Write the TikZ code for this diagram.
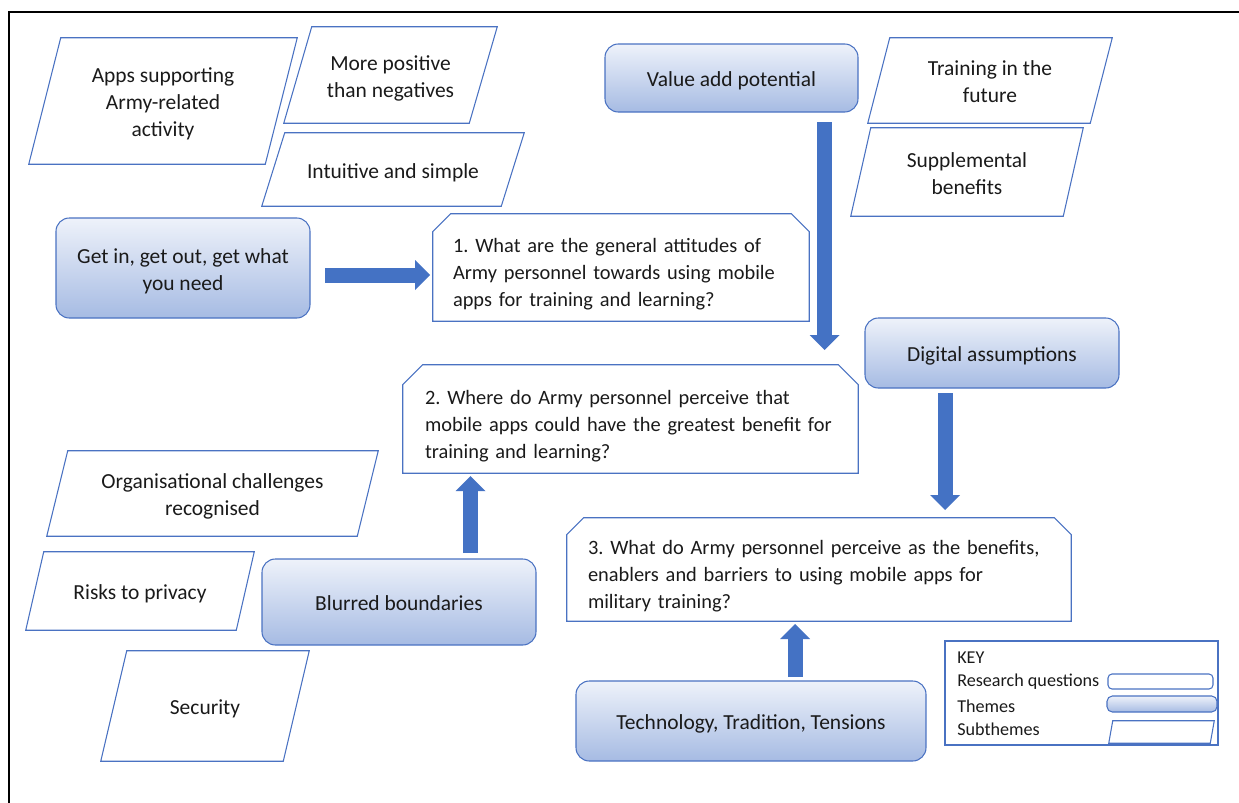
\documentclass[tikz,border=0pt]{standalone}
\usepackage{fontspec}
\setmainfont{Carlito}
\usetikzlibrary{calc,arrows.meta}
\definecolor{shapeblue}{HTML}{4A72C2}
\definecolor{arrowblue}{HTML}{4472C4}
\definecolor{themetop}{HTML}{EEF2FA}
\definecolor{themebot}{HTML}{A6BBE3}
\definecolor{txt}{HTML}{1A1A1A}
\frenchspacing
\newcommand\mainsize{\fontsize{16.1pt}{20.25pt}\selectfont}
\newcommand\rqsize{\fontsize{15.3pt}{20.25pt}\selectfont}
\newcommand\keysize{\fontsize{13.6pt}{18pt}\selectfont}
\newcommand\rl[1]{\mbox{#1}}
% struts that fix the vertical placement of text in the boxes
\newcommand\ts{\rule{0pt}{16.8pt}}
\newcommand\bs{\rule[-4pt]{0pt}{0pt}}
\newcommand\rqtop{\rule{0pt}{23pt}}
\newcommand\rqbot{\rule[-5pt]{0pt}{0pt}}
% subtheme: name, cx, cy, top width(px), height(px), offset(px), text
\newcommand\subth[7]{%
  \node[subtext, minimum width={#4*0.75pt}, minimum height={#5*0.75pt}] (#1) at (#2,#3) {#7};
  \draw[subline] ($(#1.north west)+(#6/2,0)$) -- ($(#1.north east)+(#6/2,0)$)
    -- ($(#1.south east)-(#6/2,0)$) -- ($(#1.south west)-(#6/2,0)$) -- cycle;}
% research question outline: name, cut(px)
\newcommand\rqout[2]{%
  \draw[rqline] (#1.south west) -- ($(#1.north west)+(0,#2)$) -- ($(#1.north west)+(#2,0)$)
    -- ($(#1.north east)+(-#2,0)$) -- ($(#1.north east)+(0,#2)$) -- (#1.south east) -- cycle;}
\begin{document}
\begin{tikzpicture}[x=0.75pt,y=-0.75pt,
  themebox/.style={draw=shapeblue, line width=0.8pt, rounded corners=10pt, top color=themetop,
    bottom color=themebot, inner sep=0pt},
  theme/.style={themebox, align=center, font=\mainsize, text=txt},
  rqbox/.style={align=left, font=\rqsize, text=txt, inner ysep=0pt},
  rqline/.style={draw=shapeblue, line width=0.8pt},
  subtext/.style={align=center, font=\mainsize, text=txt, inner sep=0pt},
  subline/.style={draw=shapeblue, line width=0.8pt},
  barrow/.style={draw=arrowblue, line width=11.25pt,
    -{Triangle[width=22.5pt,length=11.25pt,line width=0pt]}},
  keytext/.style={font=\keysize, text=txt, inner sep=0pt, anchor=west},
]
\useasboundingbox (0,0) rectangle (1239,803);
% outer frame (only top and left edges visible)
\draw[line width=1.8pt, line cap=rect] (9,803) -- (9,12) -- (1239,12);

% subthemes
\subth{apps}{163}{101}{236}{126}{32}{\ts Apps supporting\\Army-related\\activity\bs}
\subth{morepos}{390.5}{75}{185}{96}{28}{\ts More positive\\than negatives\bs}
\subth{intuit}{393}{169.5}{239}{73}{23}{\ts Intuitive and simple\bs}
\subth{future}{990}{80.5}{222}{85}{22}{\ts Training in the\\future\bs}
\subth{suppl}{967}{172}{212}{88}{20}{\ts Supplemental\\benefits\bs}
\subth{orgch}{212.5}{493.5}{310}{85}{21}{\ts Organisational challenges\\recognised\bs}
\subth{risks}{140}{591}{210}{78}{18}{\ts Risks to privacy\bs}
\subth{secur}{205}{706}{182}{110}{26}{\ts Security\bs}

% themes
\node[theme, minimum width=189.75pt, minimum height=51pt] (value) at (731.5,78) {\ts Value add potential\bs};
\node[theme, minimum width=190.5pt, minimum height=75pt] (getin) at (183,268) {\ts Get in, get out, get what\\you need\bs};
\node[theme, minimum width=190.5pt, minimum height=52.5pt] (digital) at (992,353) {\ts Digital assumptions\bs};
\node[theme, minimum width=205.5pt, minimum height=64.5pt] (blurred) at (399,602) {\ts Blurred boundaries\bs};
\node[theme, minimum width=262.5pt, minimum height=60pt] (tech) at (751,721) {\ts Technology, Tradition, Tensions\bs};

% research questions
\node[rqbox, text width=252pt, inner xsep=15pt, minimum height=80.25pt] (q1) at (621,267.5)
  {\rqtop\makebox[252pt][s]{1. What are the general attitudes of}\\\makebox[252pt][s]{Army personnel towards using mobile}\\\rl{apps for training and learning?}\rqbot};
\rqout{q1}{18}
\node[rqbox, text width=308.25pt, inner xsep=16.5pt, minimum height=81pt] (q2) at (630.5,419)
  {\rqtop\rl{2. Where do Army personnel perceive that}\\\rl{mobile apps could have the greatest benefit for}\\\rl{training and learning?}\rqbot};
\rqout{q2}{20}
\node[rqbox, text width=346.5pt, inner xsep=15.75pt, minimum height=77.25pt] (q3) at (819,569.5)
  {\rqtop\rl{3. What do Army personnel perceive as the benefits,}\\\rl{enablers and barriers to using mobile apps for}\\\rl{military training?}\rqbot};
\rqout{q3}{17}

% block arrows
\coordinate (a1s) at (325,275);   \coordinate (a1e) at (430,275);
\coordinate (a2s) at (824.5,122); \coordinate (a2e) at (824.5,350);
\coordinate (a3s) at (945,393);   \coordinate (a3e) at (945,510);
\coordinate (a4s) at (470.5,553); \coordinate (a4e) at (470.5,476);
\coordinate (a5s) at (795,677);   \coordinate (a5e) at (795,624);
\draw[barrow] (a1s) -- (a1e);
\draw[barrow] (a2s) -- (a2e);
\draw[barrow] (a3s) -- (a3e);
\draw[barrow] (a4s) -- (a4e);
\draw[barrow] (a5s) -- (a5e);

% key
\node[draw=shapeblue, line width=0.8pt, minimum width=204.75pt, minimum height=78pt, inner sep=0pt] (key) at (1081.5,693) {};
\node[keytext] (kkey) at (957,658) {KEY};
\node[keytext] (kq) at (957,682) {Research questions};
\node[keytext] (kt) at (957,706) {Themes};
\node[keytext] (ks) at (957,729) {Subthemes};
\node[draw=shapeblue, line width=0.8pt, rounded corners=3pt, minimum width=78.75pt, minimum height=11.25pt, inner sep=0pt] (kqs) at (1160.5,681.5) {};
\node[themebox, rounded corners=4pt, minimum width=82.5pt, minimum height=12pt] (kts) at (1162,704) {};
\node[inner sep=0pt, minimum width=75.75pt, minimum height=16.5pt] (kss) at (1161.5,732) {};
\draw[subline] ($(kss.north west)+(2,0)$) -- ($(kss.north east)+(2,0)$)
  -- ($(kss.south east)-(2,0)$) -- ($(kss.south west)-(2,0)$) -- cycle;
\end{tikzpicture}
\end{document}
